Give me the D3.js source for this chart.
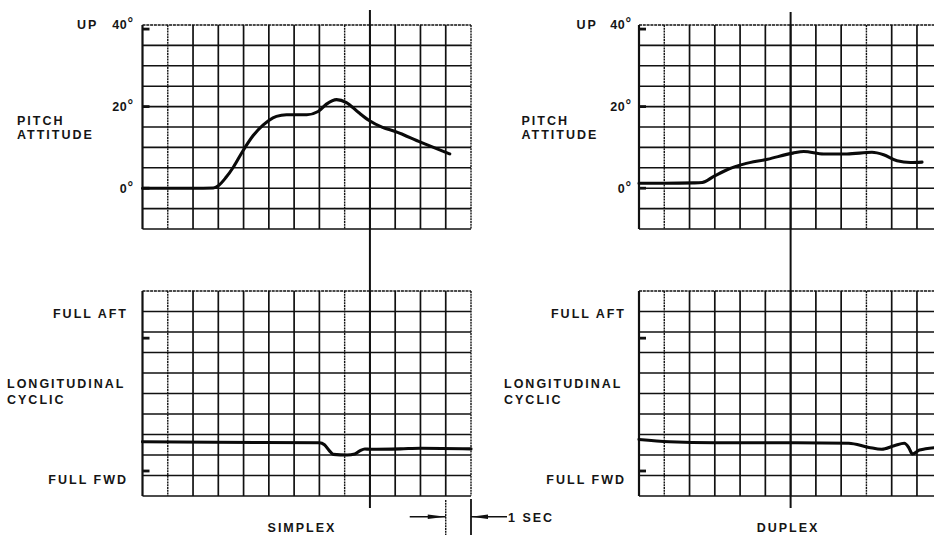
<!DOCTYPE html>
<html><head><meta charset="utf-8">
<script src="https://cdn.jsdelivr.net/npm/d3@7"></script>
<style>
body{margin:0;background:#fff}
svg text{font-family:"Liberation Sans",Arial,Helvetica,sans-serif;font-weight:bold;font-size:12.5px;fill:#151515;letter-spacing:2px}
svg text.degl{letter-spacing:0.6px}
svg text tspan.deg{font-size:14px;letter-spacing:0}
</style>
</head><body>
<svg id="chart" width="934" height="535"></svg>
<script>
// ---- data ----
const timeSec = d3.range(0, 14);                 // grid columns, 1 s each
const pitchGridDeg = d3.range(-10, 41, 5);        // pitch grid rows, 5 deg each
const cyclicGridDiv = d3.range(0, 11);            // cyclic grid rows (divisions)
const pitchTickDeg = [40, 20, 0];
const pitchTickLabels = ["40", "20", "0"];
const pitchMarkDeg = [39, 20, 0];
const cyclicMarkDiv = [7.7, 1.22];
const cursorSec = { simplex: 9, duplex: 6 };
const oneSecMarker = [12, 13];

const simplexPitch = [[0,0],[1,0],[2,0],[2.8,0.05],[3.0,0.6],[3.3,2.6],[3.6,5.2],[3.96,9.0],[4.38,12.9],[4.78,15.5],[5.0,16.6],[5.3,17.6],[5.7,18],[6.5,18],[6.95,18.8],[7.28,20.6],[7.68,21.7],[8.07,21.0],[8.54,18.6],[8.97,16.6],[9.5,14.9],[10,13.9],[11,11.3],[12.16,8.4]];
const duplexPitch = [[0,1.2],[1,1.2],[2.16,1.3],[2.5,1.4],[2.96,2.9],[3.55,4.7],[4.14,5.9],[5.09,7.1],[6.09,8.6],[6.52,9.0],[7.31,8.4],[8.23,8.4],[9.22,8.8],[9.68,8.2],[10.21,6.7],[10.74,6.3],[11.2,6.4]];
const simplexCyclic = [[0,2.65],[2.85,2.62],[7.0,2.6],[7.2,2.5],[7.4,2.2],[7.55,2.03],[8.1,2.0],[8.4,2.05],[8.6,2.2],[8.8,2.29],[9.0,2.28],[10.2,2.3],[11,2.33],[13,2.3]];
const duplexCyclic = [[0,2.76],[1.2,2.65],[3,2.6],[6.2,2.6],[8.3,2.57],[9.1,2.37],[9.6,2.28],[10.1,2.45],[10.5,2.57],[10.68,2.35],[10.82,2.05],[11.1,2.24],[11.8,2.37],[12.4,2.4]];

// ---- layout ----
const svg = d3.select("#chart");
const xS = d3.scaleLinear().domain([0, 13]).range([142.5, 471]);
const xD = d3.scaleLinear().domain([0, 13]).range([639, 967.5]);
const yP = d3.scaleLinear().domain([-10, 40]).range([229, 25]);
const yC = d3.scaleLinear().domain([0, 10]).range([496, 291]);

const dottedCols = { s: [1, 8, 13], d: [1, 9] };
const ink = "#111";

function panel(x, y, yVals, dotted) {
  const g = svg.append("g");
  const [x0, x1] = x.range();
  const [yb, yt] = y.range();
  g.selectAll("line.v").data(timeSec).join("line")
    .attr("x1", d => x(d)).attr("x2", d => x(d))
    .attr("y1", yt).attr("y2", yb)
    .attr("stroke", ink)
    .attr("stroke-width", d => d === 0 ? 2.2 : (dotted.includes(d) ? 1.4 : 1.7))
    .attr("stroke-dasharray", d => dotted.includes(d) ? "2,0.8" : null);
  g.selectAll("line.h").data(yVals).join("line")
    .attr("x1", x0).attr("x2", x1)
    .attr("y1", d => y(d)).attr("y2", d => y(d))
    .attr("stroke", ink)
    .attr("stroke-width", 1.6)
    .attr("stroke-dasharray", (d, i) => (i === yVals.length - 1) ? "3,0.8" : null);
  return g;
}

function marks(x, y, vals) {
  svg.append("g").selectAll("line").data(vals).join("line")
    .attr("x1", x(0)).attr("x2", x(0) + 7)
    .attr("y1", d => y(d)).attr("y2", d => y(d))
    .attr("stroke", ink).attr("stroke-width", 2.8);
}

function trace(x, y, data) {
  const line = d3.line().x(d => x(d[0])).y(d => y(d[1])).curve(d3.curveMonotoneX);
  svg.append("path").datum(data).attr("d", line)
    .attr("fill", "none").attr("stroke", "#0a0a0a")
    .attr("stroke-width", 3.1).attr("stroke-linejoin", "round").attr("stroke-linecap", "round");
}

// panels
panel(xS, yP, pitchGridDeg, dottedCols.s);
panel(xS, yC, cyclicGridDiv, dottedCols.s);
panel(xD, yP, pitchGridDeg, dottedCols.d);
panel(xD, yC, cyclicGridDiv, dottedCols.d);

marks(xS, yP, pitchMarkDeg);
marks(xD, yP, pitchMarkDeg);
marks(xS, yC, cyclicMarkDiv);
marks(xD, yC, cyclicMarkDiv);

// cursors
[[xS, cursorSec.simplex, 10], [xD, cursorSec.duplex, 12]].forEach(([x, t, top]) => {
  svg.append("line").attr("x1", x(t)).attr("x2", x(t)).attr("y1", top).attr("y2", 508)
    .attr("stroke", ink).attr("stroke-width", 2);
});

// traces
trace(xS, yP, simplexPitch);
trace(xD, yP, duplexPitch);
trace(xS, yC, simplexCyclic);
trace(xD, yC, duplexCyclic);

// labels
function txt(s, x, y, anchor) {
  return svg.append("text").attr("x", x).attr("y", y).attr("text-anchor", anchor || "start").text(s);
}
function degTxt(s, xEnd, y) {
  const t = svg.append("text").attr("class", "degl").attr("x", xEnd).attr("y", y).attr("text-anchor", "end");
  t.append("tspan").text(s);
  t.append("tspan").attr("class", "deg").attr("dy", -1).text("°");
}
// left (simplex)
txt("UP", 77, 28.5);
pitchTickDeg.forEach((d, i) => degTxt(pitchTickLabels[i], 133, yP(d) + (i === 0 ? 3.5 : 4.5)));
txt("PITCH", 17, 125);
txt("ATTITUDE", 17, 139);
txt("FULL AFT", 128, 317.5, "end");
txt("LONGITUDINAL", 7, 388);
txt("CYCLIC", 7, 404);
txt("FULL FWD", 128, 483.5, "end");
txt("SIMPLEX", 302, 531.5, "middle");
// right (duplex)
txt("UP", 576.5, 28.5);
pitchTickDeg.forEach((d, i) => degTxt(pitchTickLabels[i], 631, yP(d) + (i === 0 ? 3.5 : 4.5)));
txt("PITCH", 521.5, 125);
txt("ATTITUDE", 521.5, 139);
txt("FULL AFT", 626, 317.5, "end");
txt("LONGITUDINAL", 504, 388);
txt("CYCLIC", 504, 404);
txt("FULL FWD", 626, 483.5, "end");
txt("DUPLEX", 788, 531.5, "middle");

// 1 SEC marker
const mA = xS(oneSecMarker[0]), mB = xS(oneSecMarker[1]), my = 516.7;
svg.append("line").attr("x1", mA).attr("x2", mA).attr("y1", 500).attr("y2", 535)
  .attr("stroke", ink).attr("stroke-width", 1.4).attr("stroke-dasharray", "2,0.8");
svg.append("line").attr("x1", mB).attr("x2", mB).attr("y1", 499).attr("y2", 535)
  .attr("stroke", ink).attr("stroke-width", 1.8);
svg.append("line").attr("x1", mA - 36).attr("x2", mA).attr("y1", my).attr("y2", my).attr("stroke", ink).attr("stroke-width", 1.5);
svg.append("line").attr("x1", mB).attr("x2", mB + 36).attr("y1", my).attr("y2", my).attr("stroke", ink).attr("stroke-width", 1.5);
svg.append("path").attr("d", `M${mA},${my} L${mA-18},${my-2.2} L${mA-18},${my+2.2} Z`).attr("fill", ink);
svg.append("path").attr("d", `M${mB},${my} L${mB+17},${my-2.2} L${mB+17},${my+2.2} Z`).attr("fill", ink);
txt("1 SEC", mB + 37, 521.5);
</script>
</body></html>
